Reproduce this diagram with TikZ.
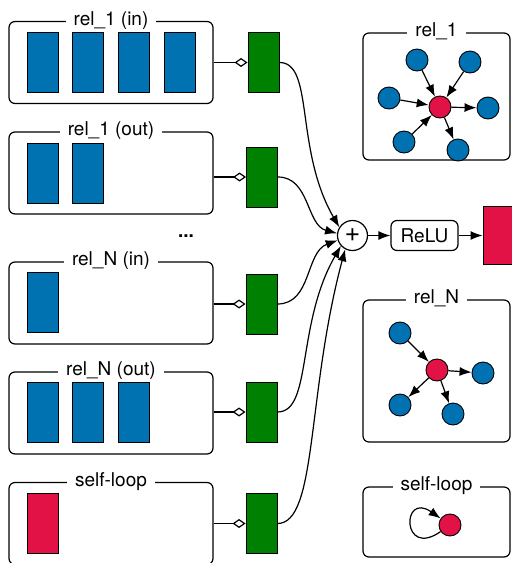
\documentclass[tikz,border=0pt]{standalone}
\usepackage{fontspec}
\setmainfont{TeX Gyre Heros}
\usetikzlibrary{arrows.meta}
\definecolor{featblue}{RGB}{0,114,178}
\definecolor{projgreen}{RGB}{0,128,0}
\definecolor{selfred}{RGB}{226,18,70}

\begin{document}
\begin{tikzpicture}[
       x=1pt, y=-1pt,
       line width=1.2pt,
       font=\fontsize{19}{22}\selectfont,
       >={Latex[length=12pt,width=9pt]},
       group/.style={draw, rounded corners=6pt, minimum width=204pt, minimum height=82pt, inner sep=0pt},
       graphbox/.style={draw, rounded corners=6pt, minimum width=147pt, inner sep=0pt},
       title/.style={fill=white, inner xsep=8pt, inner ysep=0pt, text height=13pt, text depth=4.5pt},
       feat/.style={draw, line width=0.9pt, fill=featblue, minimum width=31pt, minimum height=60pt, inner sep=0pt},
       proj/.style={draw, line width=0.9pt, fill=projgreen, minimum width=31pt, minimum height=60pt, inner sep=0pt},
       vtx/.style={circle, draw, line width=0.9pt, fill=featblue, minimum size=22pt, inner sep=0pt},
       ctr/.style={vtx, fill=selfred},
       link/.style={-{Diamond[open,length=13pt,width=9pt]}}
     ]
\useasboundingbox (0,0) rectangle (512,563);

% relation groups
\node[group] (b1) at (111,62.5) {};
\node[group] (b2) at (111,173) {};
\node[group] (b3) at (111,303) {};
\node[group] (b4) at (111,413) {};
\node[group] (b5) at (111,523.5) {};
\node[title] at (b1.north) {rel\_1 (in)};
\node[title] at (b2.north) {rel\_1 (out)};
\node[title] at (b3.north) {rel\_N (in)};
\node[title] at (b4.north) {rel\_N (out)};
\node[title] at (b5.north) {self-loop};
\node (dots) at (186,236) {\textbf{...}};

\node[feat] (f11) at (42.5,62.5) {};
\node[feat] (f12) at (88,62.5) {};
\node[feat] (f13) at (134,62.5) {};
\node[feat] (f14) at (179.5,62.5) {};
\node[feat] (f21) at (42.5,173) {};
\node[feat] (f22) at (88,173) {};
\node[feat] (f31) at (42.5,302) {};
\node[feat] (f41) at (42.5,412) {};
\node[feat] (f42) at (88,412) {};
\node[feat] (f43) at (134,412) {};
\node[feat,fill=selfred] (f51) at (42.5,523) {};

% projections
\node[proj] (g1) at (263.5,62.5) {};
\node[proj] (g2) at (262,177) {};
\node[proj] (g3) at (261.5,304) {};
\node[proj] (g4) at (261.5,412) {};
\node[proj] (g5) at (261.5,523.5) {};

\draw[link] (b1.east |- g1) -- (g1);
\draw[link] (b2.east |- g2) -- (g2);
\draw[link] (b3.east |- g3) -- (g3);
\draw[link] (b4.east |- g4) -- (g4);
\draw[link] (b5.east |- g5) -- (g5);

% sum and activation
\node[circle,draw,minimum size=30pt,inner sep=0pt,font=\fontsize{27}{27}\selectfont] (plus) at (352.5,235.5) {+};
\node[draw,rounded corners=6pt,minimum width=67pt,minimum height=30pt,inner sep=0pt] (relu) at (424.5,235.5) {ReLU};
\node[draw,line width=0.9pt,fill=selfred,minimum width=30pt,minimum height=58pt,inner sep=0pt] (h) at (498,235.5) {};

\draw[->] (g1.east) to[out=0,in=120,out distance=35pt,in distance=90pt] (plus.148);
\draw[->] (g2.east) to[out=0,in=165] (plus.172);
\draw[->] (g3.east) to[out=0,in=200] (plus.198);
\draw[->] (g4.east) to[out=0,in=240,out distance=35pt,in distance=90pt] (plus.222);
\draw[->] (g5.east) to[out=0,in=255,out distance=40pt,in distance=150pt] (plus.242);
\draw[->] (plus) -- (relu);
\draw[->] (relu) -- (h);

% relation graphs
\node[graphbox,minimum height=127pt] (r1) at (436.5,96.5) {};
\node[graphbox,minimum height=142pt] (rN) at (436.5,371) {};
\node[graphbox,minimum height=70pt] (rs) at (436.5,522) {};
\node[title] at (r1.north) {rel\_1};
\node[title] at (rN.north) {rel\_N};
\node[title] at (rs.north) {self-loop};

\node[ctr] (c1) at (440,107) {};
\node[vtx] (u1) at (417,60) {};
\node[vtx] (u2) at (470,62) {};
\node[vtx] (u3) at (389,98) {};
\node[vtx] (u4) at (404,142) {};
\node[vtx] (u5) at (488,108) {};
\node[vtx] (u6) at (458,150) {};
\draw[->] (u1)--(c1);
\draw[->] (u2)--(c1);
\draw[->] (u3)--(c1);
\draw[->] (u4)--(c1);
\draw[->] (c1)--(u5);
\draw[->] (c1)--(u6);

\node[ctr] (cN) at (437,370) {};
\node[vtx] (v1) at (400,333) {};
\node[vtx] (v2) at (483,373) {};
\node[vtx] (v3) at (400,405) {};
\node[vtx] (v4) at (453,414) {};
\draw[->] (v1)--(cN);
\draw[->] (cN)--(v2);
\draw[->] (cN)--(v3);
\draw[->] (cN)--(v4);

\node[ctr] (cs) at (450,525) {};
\draw[->] (cs) to[out=215,in=145,distance=48pt] (cs);

\end{tikzpicture}
\end{document}
